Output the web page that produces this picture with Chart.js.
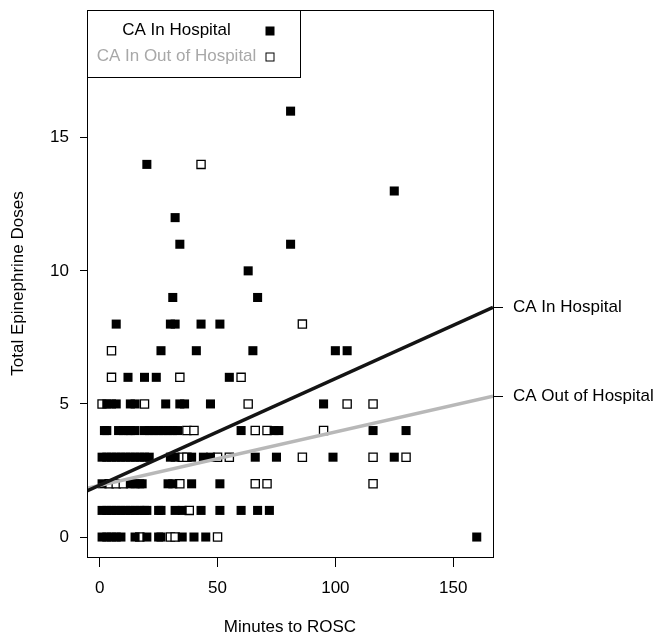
<!DOCTYPE html>
<html>
<head>
<meta charset="utf-8">
<title>Total Epinephrine Doses vs Minutes to ROSC</title>
<script src="https://cdn.jsdelivr.net/npm/chart.js@4.4.1/dist/chart.umd.min.js"></script>
<style>
  html, body { margin: 0; padding: 0; background: #fff; }
  #chart { display: block; }
</style>
</head>
<body>
<canvas id="chart" width="662" height="644"></canvas>
<script>
// axis ranges and ticks
const minuteRange = [-5.4, 166.9];
const doseRange = [-0.75, 19.8];
const minuteTicks = [0, 50, 100, 150];
const doseTicks = [0, 5, 10, 15];

// minutes to ROSC, one list per number of doses (index = doses)
const inHospitalMinutes = [
  [1, 3, 5, 7, 9, 15, 20, 25, 26, 35, 40, 45, 160],
  [1, 3, 5, 7, 9, 11, 13, 15, 17, 19, 20, 25, 26, 32, 35, 43, 51, 60, 67, 72],
  [1, 13, 15, 17, 18, 29, 31, 39, 51],
  [1, 3, 5, 7, 9, 11, 13, 15, 17, 19, 21, 30, 32, 39, 44, 47, 66, 75, 99, 125],
  [2, 3, 8, 10, 12, 13, 15, 19, 21, 23, 25, 27, 29, 31, 33, 60, 74, 76, 116, 130],
  [3, 5, 7, 13, 15, 28, 34, 36, 47, 95],
  [12, 19, 24, 55],
  [26, 41, 65, 100, 105],
  [7, 30, 32, 43, 51],
  [31, 67],
  [63],
  [34, 81],
  [32],
  [125],
  [20],
  [],
  [81],
];
const outHospitalMinutes = [
  [17, 30, 32, 50],
  [38],
  [4, 7, 10, 34, 66, 71, 116],
  [35, 37, 50, 55, 86, 116, 130],
  [37, 40, 66, 71, 95],
  [1, 19, 63, 105, 116],
  [5, 34, 60],
  [5],
  [86],
  [], [], [], [], [],
  [43],
  [], [],
];

// fitted lines: [intercept, slope]
const inHospitalFit = [1.95, 0.040];
const outHospitalFit = [1.94, 0.0201];
const fitLabels = ["CA In Hospital", "CA Out of Hospital"];
const legendLabels = ["CA In Hospital", "CA In Out of Hospital"];

const FONT = "'Liberation Sans', Arial, Helvetica, sans-serif";
Chart.defaults.font.family = FONT;
Chart.defaults.color = "#000";

function toPoints(rows) {
  const pts = [];
  rows.forEach(function (minutes, doses) {
    minutes.forEach(function (m) {
      pts.push({ x: m, y: doses });
    });
  });
  return pts;
}

function fitAt(fit, x) {
  return fit[0] + fit[1] * x;
}

function fitLine(fit) {
  return minuteRange.map(function (x) {
    return { x: x, y: fitAt(fit, x) };
  });
}

const fitEnds = [
  fitAt(inHospitalFit, minuteRange[1]),
  fitAt(outHospitalFit, minuteRange[1]),
];

// vertical axes: no extra room for half labels at the ends
function noEndPadding(s) {
  s.paddingTop = 0;
  s.paddingBottom = 0;
}

// box around the plotting region
const plotFrame = {
  id: "plotFrame",
  afterDatasetsDraw(chart) {
    const a = chart.chartArea;
    const ctx = chart.ctx;
    ctx.save();
    ctx.strokeStyle = "#000";
    ctx.lineWidth = 1;
    ctx.strokeRect(Math.round(a.left) + 0.5, Math.round(a.top) + 0.5,
      Math.round(a.right - a.left), Math.round(a.bottom - a.top));
    ctx.restore();
  },
};

// R style legend: centered text, symbol on the right
const boxLegend = {
  id: "boxLegend",
  afterDraw(chart, args, opts) {
    const a = chart.chartArea;
    const ctx = chart.ctx;
    const left = Math.round(a.left) + 0.5;
    const top = Math.round(a.top) + 0.5;
    ctx.save();
    ctx.strokeStyle = "#000";
    ctx.lineWidth = 1;
    ctx.strokeRect(left, top, 213, 67);
    ctx.font = "17px " + FONT;
    ctx.textAlign = "center";
    ctx.textBaseline = "middle";
    legendLabels.forEach(function (label, i) {
      const y = top + 20 + i * 26;
      ctx.fillStyle = opts.textColors[i];
      ctx.fillText(label, left + 89, y);
      if (i === 0) {
        ctx.fillStyle = "#000";
        ctx.fillRect(left + 178, y - 4, 9, 9);
      } else {
        ctx.strokeStyle = "#000";
        ctx.strokeRect(left + 178.5, y - 3.5, 8, 8);
      }
    });
    ctx.restore();
  },
};

new Chart(document.getElementById("chart"), {
  type: "scatter",
  data: {
    datasets: [
      {
        type: "line",
        label: fitLabels[0],
        data: fitLine(inHospitalFit),
        borderColor: "#141414",
        borderWidth: 3.5,
        pointRadius: 0,
        order: 0,
      },
      {
        type: "line",
        label: fitLabels[1],
        data: fitLine(outHospitalFit),
        borderColor: "#b8b8b8",
        borderWidth: 3.5,
        pointRadius: 0,
        order: 0,
      },
      {
        label: legendLabels[0],
        data: toPoints(inHospitalMinutes),
        pointStyle: "rect",
        pointRadius: 6.4,
        backgroundColor: "#000",
        borderWidth: 0,
        order: 1,
      },
      {
        label: legendLabels[1],
        data: toPoints(outHospitalMinutes),
        pointStyle: "rect",
        pointRadius: 5.8,
        backgroundColor: "#fff",
        borderColor: "#000",
        borderWidth: 1.3,
        order: 2,
      },
    ],
  },
  options: {
    responsive: false,
    animation: false,
    devicePixelRatio: 1,
    layout: { padding: { top: 10, left: 0, right: 0, bottom: 0 } },
    plugins: {
      legend: { display: false },
      tooltip: { enabled: false },
      boxLegend: { textColors: ["#000", "#a8a8a8"] },
    },
    scales: {
      x: {
        type: "linear",
        min: minuteRange[0],
        max: minuteRange[1],
        afterBuildTicks: function (s) {
          s.ticks = minuteTicks.map(function (v) { return { value: v }; });
        },
        afterFit: function (s) { s.height = 87; },
        grid: { drawOnChartArea: false, tickLength: 10, color: "#000", lineWidth: 1 },
        border: { display: false },
        ticks: { color: "#000", font: { size: 17 }, padding: 11, maxRotation: 0, autoSkip: false },
        title: {
          display: true,
          text: "Minutes to ROSC",
          color: "#000",
          font: { size: 17 },
          padding: { top: 0, bottom: 6 },
        },
      },
      y: {
        type: "linear",
        position: "left",
        min: doseRange[0],
        max: doseRange[1],
        afterBuildTicks: function (s) {
          s.ticks = doseTicks.map(function (v) { return { value: v }; });
        },
        afterFit: function (s) { s.width = 87; noEndPadding(s); },
        grid: { drawOnChartArea: false, tickLength: 7, color: "#000", lineWidth: 1 },
        border: { display: false },
        ticks: { color: "#000", font: { size: 17 }, padding: 11, autoSkip: false },
        title: {
          display: true,
          text: "Total Epinephrine Doses",
          color: "#000",
          font: { size: 17 },
          padding: { top: 8, bottom: 0 },
        },
      },
      y2: {
        type: "linear",
        position: "right",
        min: doseRange[0],
        max: doseRange[1],
        afterBuildTicks: function (s) {
          s.ticks = fitEnds.map(function (v) { return { value: v }; });
        },
        afterFit: function (s) { s.width = 169; noEndPadding(s); },
        grid: { drawOnChartArea: false, tickLength: 10, color: "#000", lineWidth: 1 },
        border: { display: false },
        ticks: {
          color: "#000",
          font: { size: 17 },
          padding: 10,
          autoSkip: false,
          callback: function (value, index) { return fitLabels[index]; },
        },
      },
    },
  },
  plugins: [plotFrame, boxLegend],
});
</script>
</body>
</html>
